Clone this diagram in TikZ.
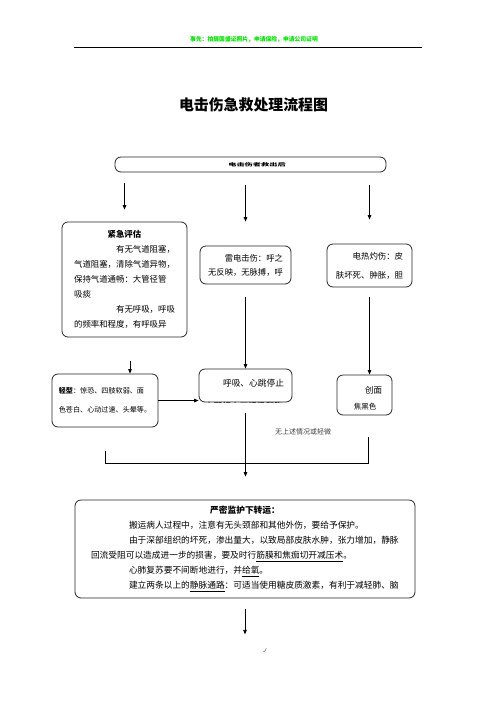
\documentclass[tikz,border=0pt]{standalone}
\usepackage{fontspec}
\setmainfont{Noto Sans CJK SC}
\usepackage{graphicx}
\usepackage{tikz}
\usetikzlibrary{arrows.meta}
\definecolor{headGreen}{RGB}{0,225,0}
\tikzset{Box/.style={%
    draw=black!85,%
    rounded corners=6pt,%
    line width=0.8pt,%
    inner sep=0pt,%
    align=left,%
}}
\tikzset{Arrow/.style={%
    -{Triangle[length=4.5pt,width=3.5pt]},%
    line width=0.8pt,%
}}
\tikzset{Link/.style={%
    line width=0.8pt,%
}}
\NewDocumentCommand{\bodySize}{m m}{%
    \fontsize{#1}{#2}\selectfont%
}

\begin{document}
\begin{tikzpicture}[x=1pt,y=-1pt]
    \useasboundingbox (0,0) rectangle (496,702);

    \node[font=\bodySize{5.8}{6}\bfseries, text=headGreen] (head) at (254,39) {事先：拍摄国盛证照片，申请保险，申请公司证明};
    \coordinate (ruleL) at (74,47);
    \coordinate (ruleR) at (422,47);
    \draw[line width=0.9pt] (ruleL) -- (ruleR);
    \node[font=\bodySize{14.9}{16}\bfseries] (title) at (253.5,105) {电击伤急救处理流程图};

    \node[Box, minimum width=271pt, minimum height=15pt] (top) at (250.5,164.5) {\hspace*{13pt}\scalebox{1}[0.55]{\bodySize{8.2}{9}\bfseries 电击伤者救出后}};
    \node[Box, minimum width=125pt, minimum height=115pt, font=\bodySize{8.4}{15}] (eval) at (124.5,279.5) {\makebox[100.8pt][c]{\bfseries 紧急评估}\\ \hspace*{5em}有无气道阻塞，\\ 气道阻塞，清除气道异物，\\ 保持气道通畅：大管径管\\ 吸痰\\ \hspace*{5em}有无呼吸，呼吸\\ 的频率和程度，有呼吸异};
    \node[Box, minimum width=91pt, minimum height=38pt, font=\bodySize{8.3}{14}] (lei) at (245.5,265) {\hspace*{2em}雷电击伤：呼之\\ 无反映，无脉搏，呼};
    \node[Box, minimum width=85pt, minimum height=43pt, font=\bodySize{8.4}{19}] (burn) at (369.5,265.5) {\hspace*{2em}电热灼伤：皮\\ 肤坏死、肿胀，胆};

    \node[Box, minimum width=106pt, minimum height=53pt, font=\bodySize{7.1}{19}] (mild) at (105,400.5) {{\bfseries 轻型}：惊恐、四肢软弱、面\\ 色苍白、心动过速、头晕等。};
    \node[Box, minimum width=93pt, minimum height=33pt] (stop) at (245.5,385.5) {};
    \node[font=\bodySize{8.7}{10}] (stoptxt) at (253.5,383) {呼吸、心跳停止};
    \begin{scope}
        \clip[rounded corners=6pt] (stop.south west) rectangle (stop.north east);
        \node[font=\bodySize{8.7}{10}] (stopcut) at (244,406) {立即行人工呼吸和胸};
    \end{scope}
    \node[Box, minimum width=55pt, minimum height=40pt] (wound) at (364.5,395) {};
    \node[font=\bodySize{8.5}{10}] (woundtxt) at (373.5,390) {创面};
    \node[font=\bodySize{7.5}{9}] (woundsub) at (365,407) {焦黑色};
    \node[font=\bodySize{7}{8}, text=black!75] (note) at (303,432) {无上述情况或轻微};

    \node[Box, minimum width=340pt, minimum height=98pt, font=\bodySize{8.7}{15}] (trans) at (245,549) {\makebox[308pt][c]{\bfseries 严密监护下转运：}\\
        \hspace*{38pt}搬运病人过程中，注意有无头颈部和其他外伤，要给予保护。\\
        \hspace*{38pt}由于深部组织的坏死，渗出量大，以致局部皮肤水肿，张力增加，静脉\\
        回流受阻可以造成进一步的损害，要及时行\underline{筋膜和焦痂切开减压术}。\\
        \hspace*{38pt}心肺复苏要不间断地进行，并\underline{给氧}。\\
        \hspace*{38pt}建立两条以上的\underline{静脉通路}：可适当使用糖皮质激素，有利于减轻肺、脑};
    \node[font=\bodySize{5}{5}] (mark) at (265,651) {ノ};

    \draw[Arrow, shorten <=11pt, shorten >=12pt] (top.south -| eval.north) -- (eval.north);
    \draw[Arrow, shorten <=13pt, shorten >=24pt] (top.south -| lei.north) -- (lei.north);
    \draw[Arrow, shorten <=13pt, shorten >=24pt] (top.south -| burn.north) -- (burn.north);
    \draw[Arrow, shorten <=13pt] (lei.south) -- (stop.north);
    \draw[Arrow, shorten <=10pt] (burn.south) -- (burn.south |- wound.north);
    \draw[Arrow, shorten <=24pt] ([xshift=5.5pt]eval.south) -- ([xshift=5.5pt]eval.south |- mild.north);
    \draw[Arrow] (mild.east) -- (mild.east -| stop.west);
    \draw[Arrow, shorten <=11pt, shorten >=23pt] (stop.south) -- (stop.south |- trans.north);
    \draw[Link] ([yshift=-24pt]mild.south) -- ++(0,12) -| ([xshift=3.5pt,yshift=-22pt]wound.south);
    \draw[Arrow, shorten <=11pt] (trans.south) -- ([yshift=-36pt]trans.south);
\end{tikzpicture}
\end{document}
